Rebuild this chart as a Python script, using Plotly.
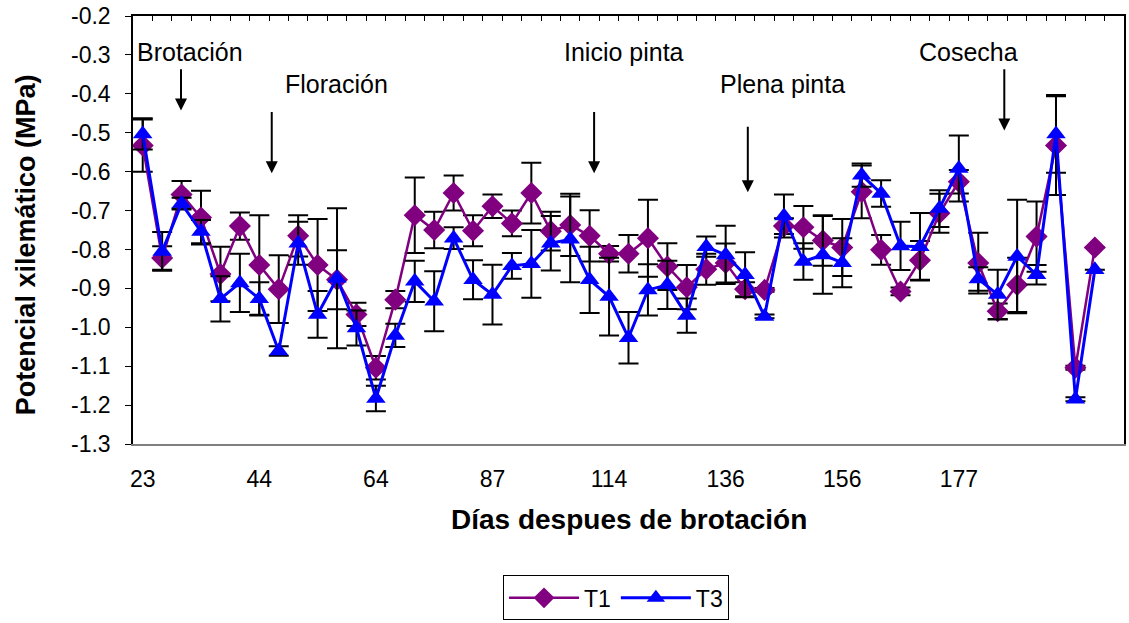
import numpy as np
import plotly.graph_objects as go

# ---------------- data ----------------
n_points = 50
x_idx = list(range(n_points))
tick_labels = ["23", "44", "64", "87", "114", "136", "156", "177"]
tick_step = 6

t1 = [-0.533, -0.822, -0.659, -0.718, -0.863, -0.740, -0.840, -0.902, -0.765, -0.840,
      -0.878, -0.967, -1.104, -0.929, -0.712, -0.750, -0.655, -0.752, -0.689, -0.733,
      -0.655, -0.753, -0.737, -0.765, -0.811, -0.811, -0.771, -0.844, -0.897, -0.851,
      -0.835, -0.902, -0.904, -0.740, -0.743, -0.777, -0.795, -0.652, -0.801, -0.908,
      -0.828, -0.707, -0.626, -0.835, -0.959, -0.891, -0.767, -0.533, -1.104, -0.795]
t3 = [-0.503, -0.805, -0.682, -0.754, -0.927, -0.886, -0.927, -1.061, -0.784, -0.967,
      -0.874, -1.002, -1.183, -1.021, -0.882, -0.933, -0.771, -0.878, -0.916, -0.842,
      -0.837, -0.784, -0.774, -0.878, -0.921, -1.027, -0.904, -0.891, -0.970, -0.793,
      -0.814, -0.865, -0.972, -0.714, -0.831, -0.814, -0.834, -0.609, -0.656, -0.791,
      -0.793, -0.695, -0.592, -0.876, -0.916, -0.818, -0.865, -0.503, -1.185, -0.852]
t1_err = [0.067, 0.03, 0.035, 0.069, 0.07, 0.035, 0.128, 0.087, 0.053, 0.118,
          0.076, 0.03, 0.03, 0.022, 0.097, 0.047, 0.045, 0.04, 0.03, 0.033,
          0.078, 0.05, 0.08, 0.066, 0.02, 0.048, 0.099, 0.06, 0.057, 0.04,
          0.05, 0.018, 0.005, 0.02, 0.055, 0.065, 0.073, 0.068, 0.038, 0.01,
          0.05, 0.05, 0.03, 0.078, 0.02, 0.07, 0.09, 0.127, 0.005, 0.0]
t3_err = [0.04, 0.05, 0.015, 0.03, 0.058, 0.075, 0.043, 0.012, 0.055, 0.06,
          0.18, 0.045, 0.033, 0.03, 0.053, 0.077, 0.028, 0.05, 0.077, 0.033,
          0.087, 0.07, 0.11, 0.085, 0.1, 0.066, 0.066, 0.062, 0.044, 0.026,
          0.075, 0.058, 0.005, 0.055, 0.047, 0.1, 0.063, 0.03, 0.034, 0.062,
          0.087, 0.047, 0.085, 0.03, 0.064, 0.146, 0.025, 0.1, 0.005, 0.0]

y_ticks = [-0.2, -0.3, -0.4, -0.5, -0.6, -0.7, -0.8, -0.9, -1.0, -1.1, -1.2, -1.3]
y_tick_text = ["-0.2", "-0.3", "-0.4", "-0.5", "-0.6", "-0.7", "-0.8", "-0.9",
               "-1.0", "-1.1", "-1.2", "-1.3"]

# phenological events: label, text x (category units), text y, arrow x, arrow tail y, arrow tip y
events = [
    ("Brotación", 2.45, -0.292, 1.97, -0.333, -0.443),
    ("Floración", 9.98, -0.375, 6.64, -0.443, -0.604),
    ("Inicio pinta", 24.77, -0.292, 23.23, -0.443, -0.604),
    ("Plena pinta", 32.94, -0.375, 31.14, -0.481, -0.653),
    ("Cosecha", 42.49, -0.292, 44.34, -0.333, -0.494),
]

FONT = "Liberation Sans, Arial, sans-serif"
PURPLE = "#800080"
BLUE = "#0000FF"

# plot-area geometry in pixels (used for paper-coordinate text placement)
PL, PR, PT, PB = 133, 1126, 15, 445
PW, PH = PR - PL, PB - PT

fig = go.Figure()
fig.add_trace(go.Scatter(
    x=x_idx, y=t1, name="T1", mode="lines+markers",
    line=dict(color=PURPLE, width=2.5),
    marker=dict(symbol="diamond", size=17, color=PURPLE),
    error_y=dict(type="data", array=t1_err, color="black", thickness=2, width=10),
))
fig.add_trace(go.Scatter(
    x=x_idx, y=t3, name="T3", mode="lines+markers",
    line=dict(color=BLUE, width=3),
    marker=dict(symbol="triangle-up", size=17, color=BLUE),
    error_y=dict(type="data", array=t3_err, color="black", thickness=2, width=10),
))
# invisible trace to carry the top (boundary-tick) axis
fig.add_trace(go.Scatter(x=[x_idx[0]], y=[t1[0]], xaxis="x2", mode="markers",
                         marker=dict(opacity=0), showlegend=False, hoverinfo="skip"))

annotations = []
for label, tx, ty, axx, tail, tip in events:
    annotations.append(dict(x=tx, y=ty, xref="x", yref="y", text=label, showarrow=False,
                            font=dict(family=FONT, size=25, color="black")))
    annotations.append(dict(x=axx, y=tip, ax=axx, ay=tail, xref="x", yref="y",
                            axref="x", ayref="y", text="", showarrow=True,
                            arrowhead=2, arrowsize=1.2, arrowwidth=2, arrowcolor="black"))
annotations.append(dict(x=(26 - PL) / PW, y=(PB - 245) / PH, xref="paper", yref="paper",
                        text="<b>Potencial xilemático (MPa)</b>",
                        showarrow=False, textangle=-90, xanchor="center", yanchor="middle",
                        font=dict(family=FONT, size=27, color="black")))
annotations.append(dict(x=(630 - PL) / PW, y=(PB - 521) / PH, xref="paper", yref="paper",
                        text="<b>Días despues de brotación</b>", showarrow=False,
                        xanchor="center", yanchor="middle",
                        font=dict(family=FONT, size=28, color="black")))

fig.update_layout(
    width=1129, height=623,
    margin=dict(l=PL, r=1129 - PR, t=PT, b=623 - PB),
    paper_bgcolor="white", plot_bgcolor="white",
    font=dict(family=FONT, size=20, color="black"),
    showlegend=True,
    legend=dict(orientation="h", x=(617 - PL) / PW, xanchor="center", y=(PB - 577) / PH, yanchor="top",
                bordercolor="black", borderwidth=1, font=dict(size=23),
                itemwidth=70, traceorder="normal"),
    xaxis=dict(range=[-0.5, n_points + 0.5], tickvals=list(range(0, n_points, tick_step))[:len(tick_labels)],
               ticktext=tick_labels, ticks="", showgrid=False, zeroline=False,
               showline=True, linecolor="#808080", linewidth=1.5,
               tickfont=dict(size=23), ticklabelstandoff=14),
    xaxis2=dict(range=[-0.5, n_points + 0.5], overlaying="x", side="top",
                tickvals=list(np.arange(0.5, n_points, 1.0)), showticklabels=False,
                ticks="inside", ticklen=5, tickcolor="black", tickwidth=1,
                showline=True, linecolor="black", linewidth=1.5, showgrid=False, zeroline=False),
    yaxis=dict(range=[-1.3, -0.2], tickvals=y_ticks, ticktext=y_tick_text,
               ticks="outside", ticklen=6, tickcolor="black", showgrid=False, zeroline=False,
               showline=True, linecolor="black", linewidth=1.5, mirror=True,
               tickfont=dict(size=23), ticklabelstandoff=10),
    annotations=annotations,
)

fig.write_html("out.html")
